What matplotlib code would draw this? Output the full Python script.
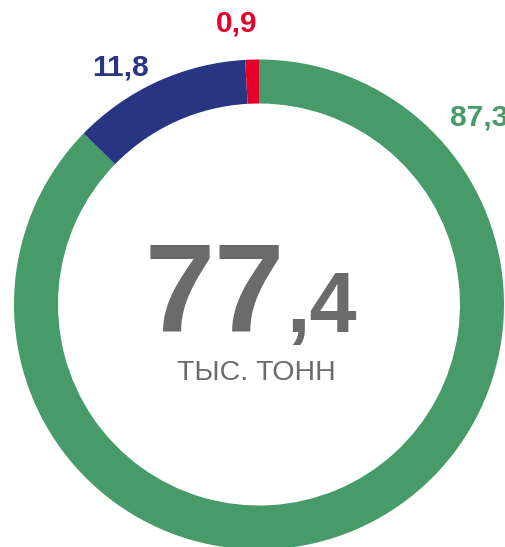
import matplotlib

matplotlib.use("Agg")
import matplotlib.pyplot as plt

# shares, %, drawn clockwise from 12 o'clock
labels = ["87,3", "11,8", "0,9"]
values = [87.3, 11.8, 0.9]
colors = ["#469b69", "#283583", "#e4002b"]

total_int = "77"
total_dec = ",4"
unit = "ТЫС. ТОНН"

W, H = 505, 547
FONT = "Liberation Sans"
GREY = "#6b6b6b"

fig = plt.figure(figsize=(W / 100, H / 100), dpi=100)
ax = fig.add_axes([0, 0, 1, 1])


def py(y):
    # pixel row (top-down) -> data y (bottom-up)
    return H - y


ax.pie(
    values,
    colors=colors,
    startangle=90,
    counterclock=False,
    radius=245,
    center=(259, py(304.5)),
    wedgeprops=dict(width=44, linewidth=0),
)
ax.set_xlim(0, W)
ax.set_ylim(0, H)
ax.set_aspect("equal")
ax.axis("off")

# outside labels (pixel anchors, alignment)
label_pos = [(450, 117, "left"), (120.5, 67, "center"), (236.5, 23, "center")]
for txt, col, (x, y, ha) in zip(labels, colors, label_pos):
    ax.text(x, py(y), txt, color=col, fontsize=21.5, fontweight="bold",
            family=FONT, ha=ha, va="center")

# centre total
ax.text(285, py(331.7), total_int, color=GREY, fontsize=91, fontweight="bold",
        family=FONT, ha="right", va="baseline")
ax.text(286, py(331.7), total_dec, color=GREY, fontsize=61, fontweight="bold",
        family=FONT, ha="left", va="baseline")
ax.text(256, py(373), unit, color=GREY, fontsize=20.5, family=FONT,
        ha="center", va="center")

fig.savefig("out.png", dpi=100)
